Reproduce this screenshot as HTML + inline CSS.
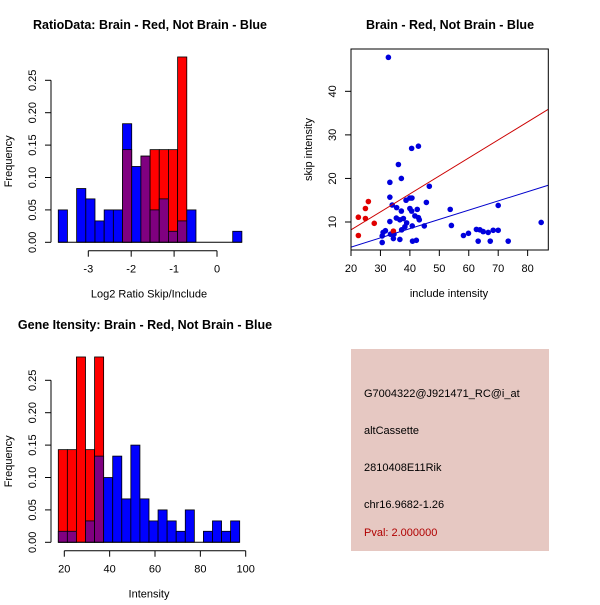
<!DOCTYPE html>
<html><head><meta charset="utf-8"><style>
html,body{margin:0;padding:0;background:#fff}
svg text{font-family:"Liberation Sans",sans-serif}
</style></head><body>
<svg id="c" width="600" height="600" viewBox="0 0 600 600" xmlns="http://www.w3.org/2000/svg">
<rect width="600" height="600" fill="#fff"/>
<g id="p1"></g>
<g id="p2"></g>
<g id="p3"></g>
<g>
<rect x="351" y="349" width="198" height="202" fill="#e6c8c2"/>
<text x="364" y="397" font-size="11" fill="#000">G7004322@J921471_RC@i_at</text>
<text x="364" y="434" font-size="11" fill="#000">altCassette</text>
<text x="364" y="471" font-size="11" fill="#000">2810408E11Rik</text>
<text x="364" y="508" font-size="11" fill="#000">chr16.9682-1.26</text>
<text x="364" y="536" font-size="11" fill="#b00000">Pval: 2.000000</text>
</g>
</svg>
<script>
// ---- Histogram 1 data ----
const ratioBinStart = -3.70;
const ratioBinWidth = 0.214;
const ratioBlue = [0.05,0,0.083,0.067,0.033,0.05,0.05,0.183,0.117,0.133,0.05,0.067,0.017,0.033,0.05,0,0,0,0,0.017];
const ratioRed  = [0,0,0,0,0,0,0,0.143,0,0.133,0.143,0.143,0.143,0.286,0,0,0,0,0,0];
const ratioXTicks = [-3,-2,-1,0];
const freqTicks = ["0.00","0.05","0.10","0.15","0.20","0.25"];
// ---- Histogram 2 data ----
const intBinStart = 17.35;
const intBinWidth = 4;
const intBlue = [0.017,0.017,0,0.033,0.133,0.1,0.133,0.067,0.15,0.067,0.033,0.05,0.033,0.017,0.05,0,0.017,0.033,0.017,0.033];
const intRed  = [0.143,0.143,0.286,0.143,0.286,0,0,0,0,0,0,0,0,0,0,0,0,0,0,0];
const intXTicks = [20,40,60,80,100];
// ---- Scatter data ----
const redX = [22.5,22.5,24.9,24.9,25.9,27.9,34.4];
const redY = [11.1,6.9,13.1,10.8,14.7,9.7,7.9];
const blueX = [32.7,40.6,42.9,36.1,37.1,33.2,46.6,33.2,38.7,40.0,40.7,34.0,45.6,35.5,37.1,35.4,40.0,40.6,42.5,41.7,42.9,43.2,37.8,38.9,36.6,38.3,37.2,33.2,44.9,40.8,33.4,30.9,30.6,31.7,34.6,34.4,30.6,36.6,40.9,42.2,53.7,54.1,58.2,59.9,62.6,63.8,64.9,66.6,68.3,70.0,70.0,63.2,67.3,73.4,84.6];
const blueY = [47.8,26.9,27.4,23.2,20.0,19.1,18.2,15.7,15.0,15.5,15.5,13.9,14.5,13.3,12.5,10.9,13.1,12.5,12.9,11.4,11.0,10.5,10.8,9.8,10.5,8.9,8.2,10.1,9.1,9.1,7.2,7.6,6.8,8.0,7.2,6.2,5.3,6.0,5.6,5.8,12.9,9.2,6.9,7.4,8.3,8.2,7.8,7.6,8.1,8.1,13.8,5.6,5.6,5.6,9.9];
const redFit = [-0.07,0.413];   // intercept, slope
const blueFit = [0.0,0.212];
const scXTicks = [20,30,40,50,60,70,80];
const scYTicks = [10,20,30,40];

const NS="http://www.w3.org/2000/svg";
function mk(parent,tag,attrs,text){const e=document.createElementNS(NS,tag);for(const k in attrs)e.setAttribute(k,attrs[k]);if(text!==undefined)e.textContent=text;parent.appendChild(e);return e;}

function histogram(gid,title,xlabel,binStart,binW,blue,red,xticks,xs,y0,axisY,titleX,titleY){
  const g=document.getElementById(gid);
  const ys=v=>y0-v*648;
  let t=mk(g,'text',{x:titleX,y:titleY,'font-size':12.5,'font-weight':'bold','text-anchor':'middle'},title);
  
  for(let i=0;i<blue.length;i++){
    const x0=xs(binStart+i*binW),x1=xs(binStart+(i+1)*binW);
    const b=blue[i],r=red[i];
    const mx=Math.max(b,r),mn=Math.min(b,r);
    if(mx>0){
      const r1=mk(g,'rect',{x:x0,y:ys(mx),width:x1-x0,height:ys(0)-ys(mx),fill:(b>=r?'#0000ff':'#ff0000'),stroke:'#000','stroke-width':0.8});
      
    }
    if(mn>0){
      const r2=mk(g,'rect',{x:x0,y:ys(mn),width:x1-x0,height:ys(0)-ys(mn),fill:'#800080',stroke:'#000','stroke-width':0.8});
      
    }
  }
  const base=mk(g,'line',{x1:xs(binStart),x2:xs(binStart+blue.length*binW),y1:y0,y2:y0,stroke:'#000','stroke-width':1});
  
  const ya=mk(g,'g',{});
  mk(ya,'line',{x1:51,x2:51,y1:ys(0),y2:ys(0.25),stroke:'#000'});
  freqTicks.forEach(s=>{const v=parseFloat(s);mk(ya,'line',{x1:45,x2:51,y1:ys(v),y2:ys(v),stroke:'#000'});
    mk(ya,'text',{x:0,y:0,'font-size':11,'text-anchor':'middle',transform:`translate(36,${ys(v)}) rotate(-90)`},s);});
  const yl=mk(g,'text',{x:0,y:0,'font-size':11,'text-anchor':'middle',transform:`translate(12,${(ys(0)+ys(0.25))/2}) rotate(-90)`},'Frequency');
  
  const xa=mk(g,'g',{});
  mk(xa,'line',{x1:xs(xticks[0]),x2:xs(xticks[xticks.length-1]),y1:axisY,y2:axisY,stroke:'#000'});
  xticks.forEach(v=>{mk(xa,'line',{x1:xs(v),x2:xs(v),y1:axisY,y2:axisY+6,stroke:'#000'});
    mk(xa,'text',{x:xs(v),y:axisY+22,'font-size':11,'text-anchor':'middle'},String(v));});
  const xl=mk(g,'text',{x:149,y:axisY+47,'font-size':11,'text-anchor':'middle'},xlabel);
  
}
histogram('p1','RatioData: Brain - Red, Not Brain - Blue','Log2 Ratio Skip/Include',ratioBinStart,ratioBinWidth,ratioBlue,ratioRed,ratioXTicks,v=>217+(v)*42.9,242.3,250.7,150,29);
histogram('p3','Gene Itensity: Brain - Red, Not Brain - Blue','Intensity',intBinStart,intBinWidth,intBlue,intRed,intXTicks,v=>64.3+(v-20)*2.2675,542.3,550.7,145,329);

(function(){
  const g=document.getElementById('p2');
  const L=351,R=548.3,T=49,B=250;
  const xs=v=>351+(v-20)*2.944;
  const ys=v=>222-(v-10)*4.356;
  const t=mk(g,'text',{x:450,y:29,'font-size':12.5,'font-weight':'bold','text-anchor':'middle'},'Brain - Red, Not Brain - Blue');
  
  const clip=mk(g,'clipPath',{id:'scclip'});mk(clip,'rect',{x:L,y:T,width:R-L,height:B-T});
  const pts=mk(g,'g',{'clip-path':'url(#scclip)'});
  for(let i=0;i<blueX.length;i++){const c=mk(pts,'circle',{cx:xs(blueX[i]),cy:ys(blueY[i]),r:2.8,fill:'#0000dd'});
    }
  for(let i=0;i<redX.length;i++){const c=mk(pts,'circle',{cx:xs(redX[i]),cy:ys(redY[i]),r:2.8,fill:'#e00000'});
    }
  const xa0=20,xa1=87;
  const rl=mk(pts,'line',{x1:xs(xa0),y1:ys(redFit[0]+redFit[1]*xa0),x2:xs(xa1),y2:ys(redFit[0]+redFit[1]*xa1),stroke:'#cc0000','stroke-width':1});
  
  const bl=mk(pts,'line',{x1:xs(xa0),y1:ys(blueFit[0]+blueFit[1]*xa0),x2:xs(xa1),y2:ys(blueFit[0]+blueFit[1]*xa1),stroke:'#0000cc','stroke-width':1});
  
  const box=mk(g,'rect',{x:L,y:T,width:R-L,height:B-T,fill:'none',stroke:'#000'});
  
  const xa=mk(g,'g',{});
  scXTicks.forEach(v=>{mk(xa,'line',{x1:xs(v),x2:xs(v),y1:B,y2:B+6,stroke:'#000'});
    mk(xa,'text',{x:xs(v),y:B+22,'font-size':11,'text-anchor':'middle'},String(v));});
  const ya=mk(g,'g',{});
  scYTicks.forEach(v=>{mk(ya,'line',{x1:L-6,x2:L,y1:ys(v),y2:ys(v),stroke:'#000'});
    mk(ya,'text',{x:0,y:0,'font-size':11,'text-anchor':'middle',transform:`translate(336,${ys(v)}) rotate(-90)`},String(v));});
  const xl=mk(g,'text',{x:449,y:297,'font-size':11,'text-anchor':'middle'},'include intensity');
  
  const yl=mk(g,'text',{x:0,y:0,'font-size':11,'text-anchor':'middle',transform:`translate(312,${(T+B)/2}) rotate(-90)`},'skip intensity');
  
})();
</script>
</body></html>
